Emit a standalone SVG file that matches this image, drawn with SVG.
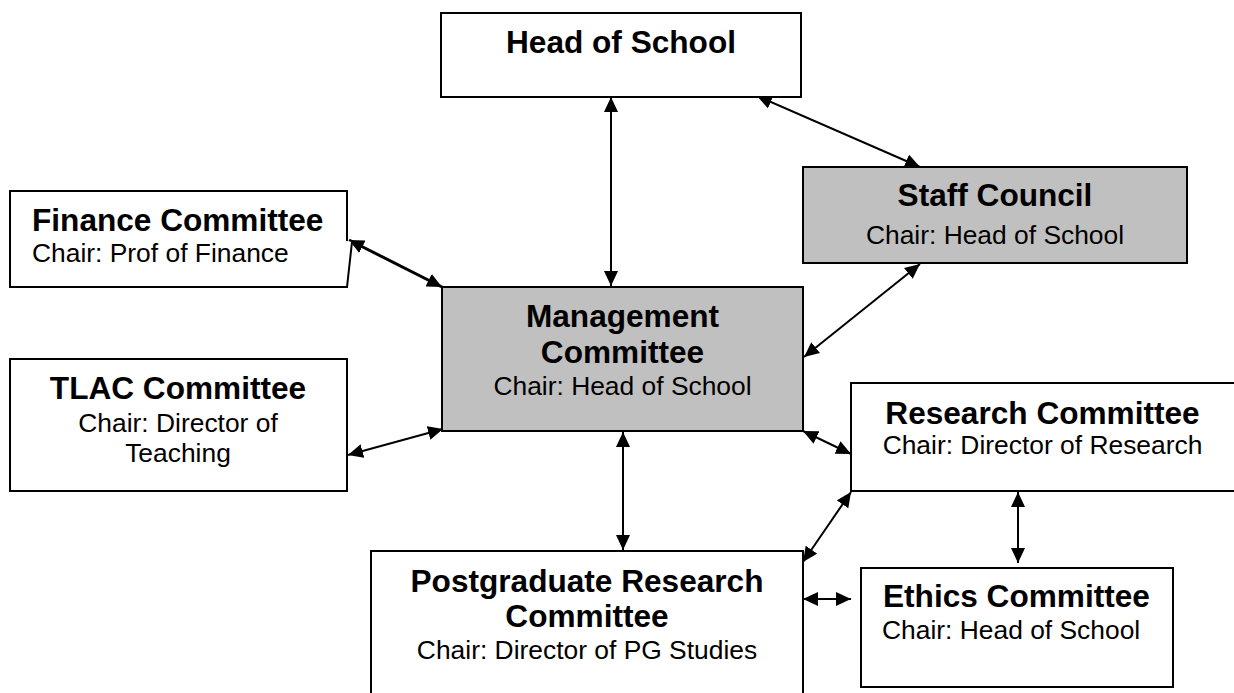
<svg xmlns="http://www.w3.org/2000/svg" width="1234" height="693" viewBox="0 0 1234 693">
  <style>
    .box { fill: #ffffff; stroke: #000000; stroke-width: 2; }
    .shaded { fill: #c0c0c0; stroke: #000000; stroke-width: 2; }
    .title { font-family: "Liberation Sans", Arial, sans-serif; font-weight: bold; font-size: 31.6px; fill: #000000; }
    .sub { font-family: "Liberation Sans", Arial, sans-serif; font-size: 26.4px; fill: #000000; }
    .mid { text-anchor: middle; }
    .link { fill: none; stroke: #000000; stroke-width: 2; marker-start: url(#head); marker-end: url(#head); }
  </style>
  <defs>
    <marker id="head" viewBox="0 0 15 14" refX="15" refY="7" markerWidth="15" markerHeight="14" markerUnits="userSpaceOnUse" orient="auto-start-reverse">
      <path d="M0,0 L15,7 L0,14 Z" fill="#000000"/>
    </marker>
  </defs>
  <rect width="1234" height="693" fill="#ffffff"/>

  <g id="connectors">
    <line class="link" x1="611" y1="97" x2="611" y2="286"/>
    <line class="link" x1="757" y1="96" x2="920" y2="167"/>
    <line class="link" x1="920" y1="264" x2="804" y2="357"/>
    <line class="link" x1="349" y1="240" x2="442" y2="287" style="stroke-width:3"/>
    <line class="link" x1="348" y1="455" x2="443" y2="429"/>
    <line class="link" x1="623" y1="432" x2="623" y2="550"/>
    <line class="link" x1="803" y1="431" x2="851" y2="454"/>
    <line class="link" x1="803" y1="562" x2="851" y2="492"/>
    <line class="link" x1="1018" y1="492" x2="1018" y2="563"/>
    <line class="link" x1="803" y1="599" x2="851" y2="599"/>
  </g>

  <g id="head-of-school">
    <rect class="box" x="441" y="13" width="360" height="84"/>
    <text class="title mid" x="621" y="53">Head of School</text>
  </g>

  <g id="staff-council">
    <rect class="shaded" x="803" y="167" width="384" height="96"/>
    <text class="title mid" x="995" y="206">Staff Council</text>
    <text class="sub mid" x="995" y="244">Chair: Head of School</text>
  </g>

  <g id="finance-committee">
    <path class="box" d="M347,241 V191 H10 V287 H347 L352,242"/>
    <text class="title" x="32" y="231">Finance Committee</text>
    <text class="sub" x="32" y="262">Chair: Prof of Finance</text>
  </g>

  <g id="management-committee">
    <rect class="shaded" x="442" y="287" width="361" height="144"/>
    <text class="title mid" x="622.5" y="327">Management</text>
    <text class="title mid" x="622.5" y="363">Committee</text>
    <text class="sub mid" x="622.5" y="395">Chair: Head of School</text>
  </g>

  <g id="tlac-committee">
    <rect class="box" x="10" y="359" width="337" height="132"/>
    <text class="title mid" x="178" y="399">TLAC Committee</text>
    <text class="sub mid" x="178" y="432">Chair: Director of</text>
    <text class="sub mid" x="178" y="462">Teaching</text>
  </g>

  <g id="research-committee">
    <rect class="box" x="851" y="383" width="386" height="108"/>
    <text class="title mid" x="1042.5" y="424">Research Committee</text>
    <text class="sub mid" x="1042.5" y="454">Chair: Director of Research</text>
  </g>

  <g id="postgraduate-research-committee">
    <rect class="box" x="371" y="551" width="432" height="150"/>
    <text class="title mid" x="587" y="592">Postgraduate Research</text>
    <text class="title mid" x="587" y="627">Committee</text>
    <text class="sub mid" x="587" y="659">Chair: Director of PG Studies</text>
  </g>

  <g id="ethics-committee">
    <rect class="box" x="861" y="568" width="312" height="119"/>
    <text class="title" x="883" y="607">Ethics Committee</text>
    <text class="sub" x="882" y="639">Chair: Head of School</text>
  </g>
</svg>
